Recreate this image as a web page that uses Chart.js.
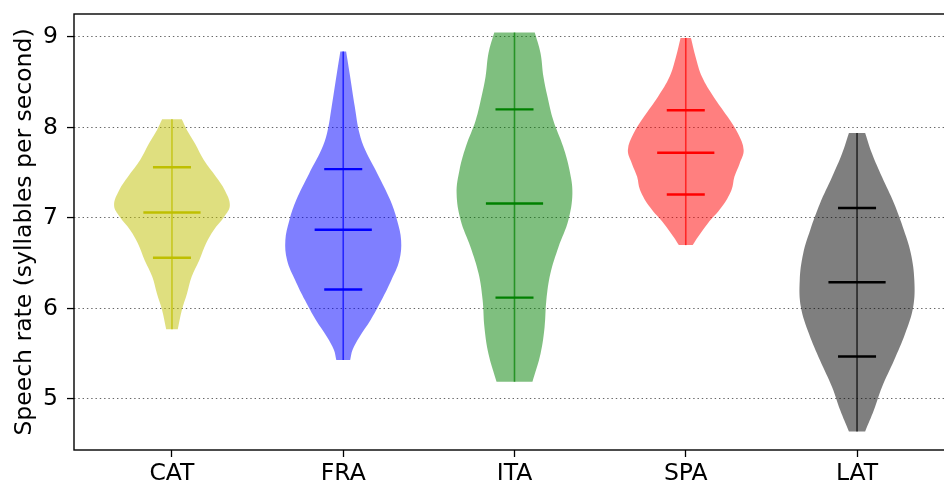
<!DOCTYPE html>
<html>
<head>
<meta charset="utf-8">
<script src="https://cdn.jsdelivr.net/npm/chart.js@4/dist/chart.umd.min.js"></script>
<style>
  html, body { margin: 0; padding: 0; overflow: hidden; background: #fff; }
  #wrap { width: 958px; height: 487px; }
</style>
</head>
<body>
<div id="wrap"><canvas id="c" width="958" height="487"></canvas></div>
<script>
// Languages and their positions on the x axis
const languages = ['CAT', 'FRA', 'ITA', 'SPA', 'LAT'];
const positions = [1, 2, 3, 4, 5];

// Summary statistics (syllables per second)
const medians        = [7.06, 6.87, 7.16, 7.72, 6.29];
const lowerQuartiles = [6.56, 6.21, 6.12, 7.26, 5.47];
const upperQuartiles = [7.56, 7.54, 8.20, 8.19, 7.11];

// Density profiles: speech-rate levels (max -> min) and relative density at each level
const catRates   = [8.09, 7.97, 7.82, 7.64, 7.455, 7.31, 7.14, 7.01, 6.865, 6.72, 6.53, 6.35, 6.165, 5.98, 5.77];
const catDensity = [0.17, 0.26, 0.40, 0.55, 0.76, 0.91, 1.00, 0.90, 0.72, 0.59, 0.47, 0.34, 0.26, 0.17, 0.10];

const fraRates   = [8.84, 8.60, 8.23, 7.935, 7.75, 7.49, 7.20, 6.976, 6.754, 6.533, 6.312, 6.09, 5.87, 5.685, 5.54, 5.43];
const fraDensity = [0.05, 0.11, 0.20, 0.28, 0.38, 0.59, 0.81, 0.93, 1.00, 0.97, 0.83, 0.66, 0.47, 0.28, 0.16, 0.12];

const itaRates   = [9.05, 8.82, 8.56, 8.34, 8.08, 7.79, 7.53, 7.27, 6.976, 6.68, 6.386, 6.09, 5.795, 5.50, 5.19];
const itaDensity = [0.35, 0.45, 0.50, 0.57, 0.67, 0.84, 0.95, 1.00, 0.93, 0.76, 0.62, 0.55, 0.52, 0.45, 0.31];

const spaRates   = [8.99, 8.78, 8.56, 8.34, 8.12, 7.935, 7.75, 7.60, 7.455, 7.31, 7.12, 6.94, 6.79, 6.70];
const spaDensity = [0.09, 0.17, 0.28, 0.48, 0.72, 0.90, 1.00, 0.93, 0.84, 0.79, 0.62, 0.38, 0.21, 0.12];

const latRates   = [7.94, 7.71, 7.455, 7.16, 6.865, 6.607, 6.31, 6.017, 5.72, 5.427, 5.13, 4.874, 4.64];
const latDensity = [0.14, 0.26, 0.43, 0.64, 0.81, 0.93, 0.99, 0.97, 0.83, 0.64, 0.43, 0.29, 0.14];

// Axis ticks
const yTicks = [5, 6, 7, 8, 9];

const profileRates   = [catRates, fraRates, itaRates, spaRates, latRates];
const profileDensity = [catDensity, fraDensity, itaDensity, spaDensity, latDensity];

// Styling
const lineColors = ['#bfbf00', '#0000ff', '#008000', '#ff0000', '#000000'];
const fillColors = ['rgba(191,191,0,0.5)', 'rgba(0,0,255,0.5)', 'rgba(0,128,0,0.5)', 'rgba(255,0,0,0.5)', 'rgba(0,0,0,0.5)'];
const barColors  = ['rgba(191,191,0,0.75)', 'rgba(0,0,255,0.7)', 'rgba(0,128,0,0.7)', 'rgba(255,0,0,0.7)', 'rgba(0,0,0,0.7)'];
const BODY_HALF = 0.338;    // half width of a violin at its widest
const MEDIAN_HALF = 0.167;  // half length of the median marker
const QUART_HALF = 0.111;   // half length of the quartile markers
const FONT_SIZE = 23.5;

// Closed outline of a violin: right edge top->bottom, then left edge bottom->top.
// The bottom corners are repeated so the smoothed curve keeps a flat, square-cornered base.
function bodyOutline(i) {
  const pos = positions[i], r = profileRates[i], d = profileDensity[i];
  const right = r.map((v, k) => ({ x: pos + d[k] * BODY_HALF, y: v }));
  const left = r.map((v, k) => ({ x: pos - d[k] * BODY_HALF, y: v })).reverse();
  return right.concat([right[right.length - 1], left[0]], left);
}

function segment(pos, half, value) {
  return [{ x: pos - half, y: value }, { x: pos + half, y: value }];
}

const datasets = [];
languages.forEach((lang, i) => {
  const pos = positions[i];
  const r = profileRates[i];
  datasets.push({
    label: lang,
    data: bodyOutline(i),
    fill: 'shape',
    backgroundColor: fillColors[i],
    borderWidth: 0,
    borderColor: 'rgba(0,0,0,0)',
    pointRadius: 0,
    tension: 0.38,
    order: 3
  });
  datasets.push({
    label: lang + ' range',
    data: [{ x: pos, y: Math.min(...r) }, { x: pos, y: Math.max(...r) }],
    fill: false,
    borderColor: barColors[i],
    borderWidth: 1.6,
    pointRadius: 0,
    order: 2
  });
  [[MEDIAN_HALF, medians[i]], [QUART_HALF, lowerQuartiles[i]], [QUART_HALF, upperQuartiles[i]]].forEach(([h, v]) => {
    datasets.push({
      label: lang + ' marker',
      data: segment(pos, h, v),
      fill: false,
      borderColor: lineColors[i],
      borderWidth: 2.4,
      pointRadius: 0,
      order: 1
    });
  });
});

// Frame around the plotting area
const framePlugin = {
  id: 'frame',
  afterDraw(chart) {
    const { ctx, chartArea: a } = chart;
    ctx.save();
    ctx.strokeStyle = '#000';
    ctx.lineWidth = 1.4;
    ctx.strokeRect(a.left, a.top, a.right - a.left, a.bottom - a.top);
    ctx.restore();
  }
};

Chart.defaults.font.family = 'DejaVu Sans';
Chart.defaults.color = '#000';

new Chart(document.getElementById('c'), {
  type: 'line',
  data: { datasets },
  options: {
    responsive: false,
    animation: false,
    events: [],
    layout: { padding: { left: 0, top: 14, right: 3, bottom: 0 } },
    plugins: { legend: { display: false }, tooltip: { enabled: false } },
    scales: {
      x: {
        type: 'linear',
        min: 0.428,
        max: 5.572,
        afterBuildTicks: s => { s.ticks = positions.map(v => ({ value: v })); },
        afterFit: s => { s.height = 37; s.paddingLeft = 0; s.paddingRight = 0; },
        ticks: {
          font: { size: FONT_SIZE },
          padding: 3,
          maxRotation: 0,
          autoSkip: false,
          callback: v => languages[positions.indexOf(v)]
        },
        grid: { drawOnChartArea: false, drawTicks: true, tickLength: 7, tickColor: '#000', tickWidth: 1.3 },
        border: { display: false }
      },
      y: {
        type: 'linear',
        min: 4.436,
        max: 9.254,
        afterBuildTicks: s => { s.ticks = yTicks.map(v => ({ value: v })); },
        afterFit: s => { s.width = 74; s.paddingTop = 0; s.paddingBottom = 0; },
        ticks: { font: { size: FONT_SIZE }, padding: 9 },
        grid: {
          color: 'rgba(0,0,0,0.6)',
          lineWidth: 1.1,
          tickLength: 7,
          tickColor: '#000',
          tickWidth: 1.3,
          tickBorderDash: []
        },
        border: { display: false, dash: [1.4, 2.9] },
        title: {
          display: true,
          text: 'Speech rate (syllables per second)',
          font: { size: FONT_SIZE },
          padding: { top: 11, bottom: 0 }
        }
      }
    }
  },
  plugins: [framePlugin]
});
</script>
</body>
</html>
